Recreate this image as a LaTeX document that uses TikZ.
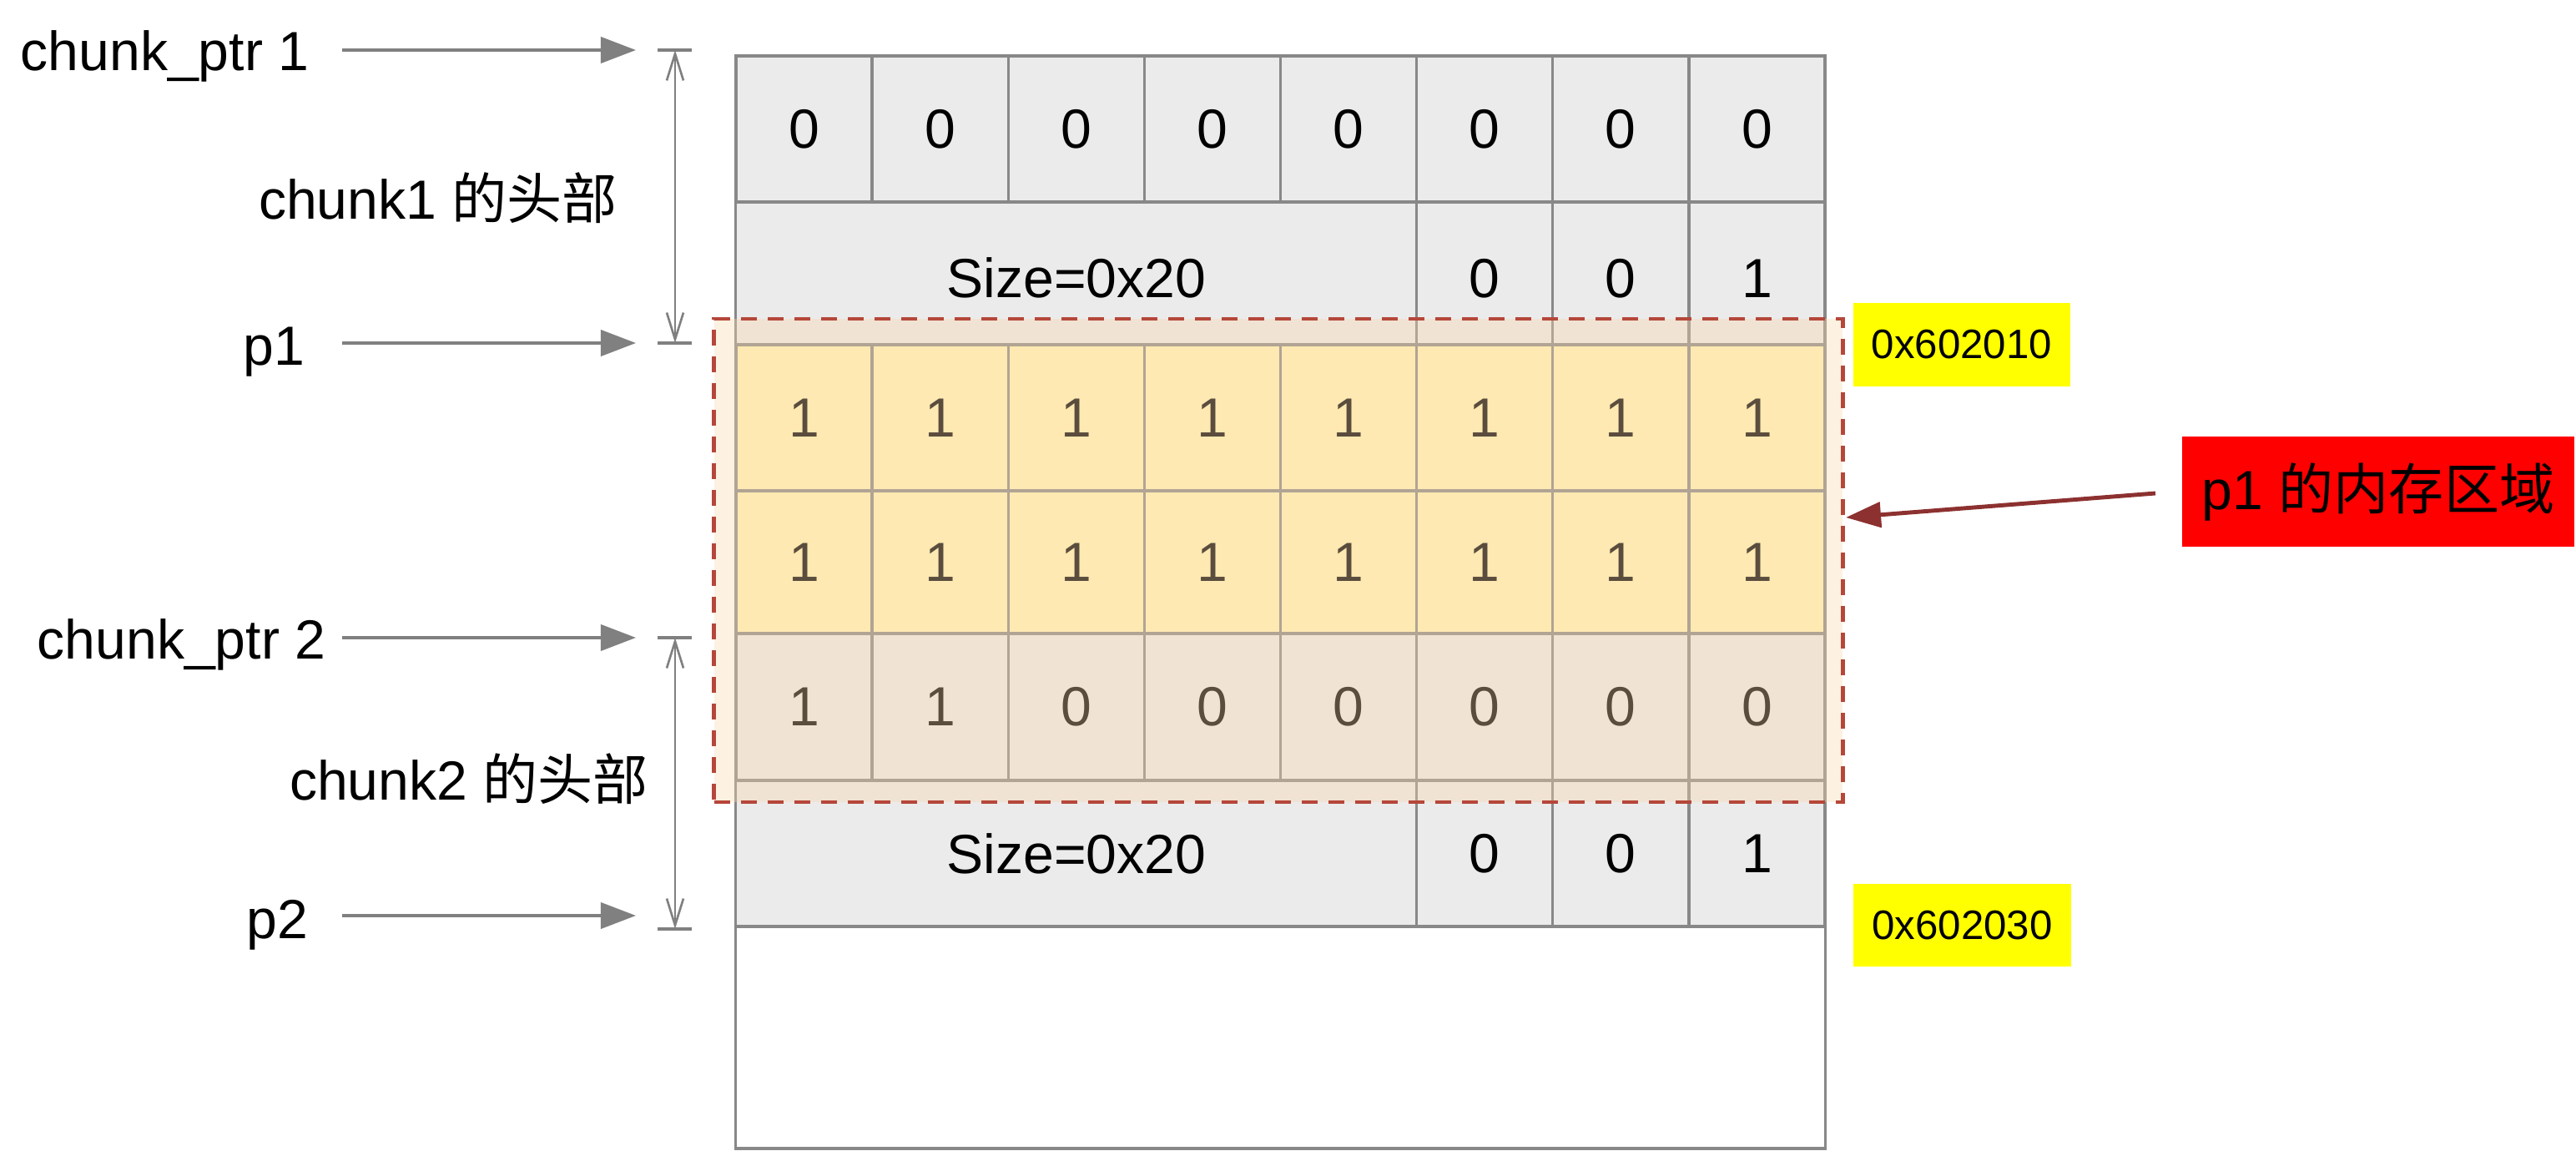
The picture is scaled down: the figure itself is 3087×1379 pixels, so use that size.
\documentclass[tikz,border=0pt]{standalone}
\usepackage{fontspec}
\setmainfont{Liberation Sans}
\newfontfamily\cjk{Noto Sans CJK SC}
\usetikzlibrary{arrows.meta}
\definecolor{cellgray}{HTML}{EBEBEB}
\definecolor{cellyellow}{HTML}{FFF4B4}
\definecolor{gridline}{HTML}{888888}
\definecolor{ovfill}{HTML}{FAD7AC}
\definecolor{ovline}{HTML}{B5473A}
\definecolor{ptrgray}{HTML}{808080}
\definecolor{arrowred}{HTML}{8C3130}
\definecolor{tagyellow}{HTML}{FFFF00}
\definecolor{tagred}{HTML}{FF0000}
\tikzset{
  bigfont/.style={font=\fontsize{18.8pt}{22pt}\selectfont},
  cell/.style={draw=gridline, line width=0.95pt, minimum width=1.63125cm, inner sep=0pt, bigfont, text=black},
  lowtext/.style={text height=0.57cm, text depth=0cm},
  lbl/.style={inner sep=0pt, bigfont, text=black},
  region/.style={draw=ovline, line width=1.3pt, dash pattern=on 0.19cm off 0.13cm, fill=ovfill, fill opacity=0.36, draw opacity=1, text opacity=1, inner sep=0pt},
  tagbox/.style={fill=tagyellow, inner sep=0pt, text=black, font=\fontsize{14pt}{16pt}\selectfont},
  ptrarrow/.style={draw=ptrgray, line width=1.1pt, -{Triangle[length=0.42cm,width=0.31cm]}},
  dimline/.style={draw=ptrgray, line width=0.75pt, {Straight Barb[length=0.32cm,width=0.2cm,line width=0.75pt]}-{Straight Barb[length=0.32cm,width=0.2cm,line width=0.75pt]}},
  dimtick/.style={draw=ptrgray, line width=1pt},
  redarrow/.style={draw=arrowred, line width=1.4pt, -{Triangle[length=0.42cm,width=0.3cm]}}
}
\begin{document}
\begin{tikzpicture}[x=0.01cm,y=-0.01cm]
\useasboundingbox (0,0) rectangle (3087,1379);

% ---- memory table ----
\foreach \v [count=\i from 0] in {0,0,0,0,0,0,0,0}
  \node[cell, fill=cellgray, minimum height=1.75cm] (ra\i) at ({963.6+163.125*\i},154.5) {\v};
\node[cell, fill=cellgray, minimum width=8.156cm, minimum height=1.71cm, lowtext] (sizea) at (1289.8,327.5) {Size=0x20};
\foreach \v [count=\i from 5] in {0,0,1}
  \node[cell, fill=cellgray, minimum height=1.71cm, lowtext] (rb\i) at ({963.6+163.125*\i},327.5) {\v};
\foreach \v [count=\i from 0] in {1,1,1,1,1,1,1,1}
  \node[cell, fill=cellyellow, minimum height=1.75cm] (rc\i) at ({963.6+163.125*\i},500.5) {\v};
\foreach \v [count=\i from 0] in {1,1,1,1,1,1,1,1}
  \node[cell, fill=cellyellow, minimum height=1.71cm] (rd\i) at ({963.6+163.125*\i},673.5) {\v};
\foreach \v [count=\i from 0] in {1,1,0,0,0,0,0,0}
  \node[cell, fill=cellgray, minimum height=1.76cm] (re\i) at ({963.6+163.125*\i},847) {\v};
\node[cell, fill=cellgray, minimum width=8.156cm, minimum height=1.75cm] (sizeb) at (1289.8,1022.5) {Size=0x20};
\foreach \v [count=\i from 5] in {0,0,1}
  \node[cell, fill=cellgray, minimum height=1.75cm] (rf\i) at ({963.6+163.125*\i},1022.5) {\v};
\node[cell, fill=white, minimum width=13.05cm, minimum height=2.66cm] (freearea) at (1534.5,1243) {};

% ---- p1 memory region overlay ----
\node[region, minimum width=13.52cm, minimum height=5.79cm] (p1region) at (1532,671.5) {};

% ---- address tags ----
\node[tagbox, minimum width=2.60cm, minimum height=1.00cm] (addr1) at (2351,413) {0x602010};
\node[tagbox, minimum width=2.61cm, minimum height=0.99cm] (addr2) at (2351.5,1108.5) {0x602030};

% ---- red label and arrow ----
\node[fill=tagred, inner sep=0pt, minimum width=4.70cm, minimum height=1.32cm, bigfont, text=black] (memlbl) at (2850,589) {p1 {\cjk 的内存区域}};
\coordinate (redstart) at (2583,591);
\coordinate (redend) at (2212,620);
\draw[redarrow] (redstart) -- (redend);

% ---- left labels ----
\node[lbl, anchor=base east] (ptra) at (371,85) {chunk\_ptr 1};
\node[lbl, anchor=base] (heada) at (525,262) {chunk1 {\cjk 的头部}};
\node[lbl, anchor=base east] (pa) at (366,437) {p1};
\node[lbl, anchor=base east] (ptrb) at (391,789) {chunk\_ptr 2};
\node[lbl, anchor=base] (headb) at (562,958) {chunk2 {\cjk 的头部}};
\node[lbl, anchor=base east] (pb) at (370,1124) {p2};

% ---- pointer arrows ----
\coordinate (ptras) at (410,60);   \coordinate (ptrae) at (762,60);
\coordinate (pas) at (410,411);    \coordinate (pae) at (762,411);
\coordinate (ptrbs) at (410,764);  \coordinate (ptrbe) at (762,764);
\coordinate (pbs) at (410,1097);   \coordinate (pbe) at (762,1097);
\draw[ptrarrow] (ptras) -- (ptrae);
\draw[ptrarrow] (pas) -- (pae);
\draw[ptrarrow] (ptrbs) -- (ptrbe);
\draw[ptrarrow] (pbs) -- (pbe);

% ---- header brackets ----
\coordinate (bat) at (809,60);  \coordinate (bab) at (809,411);
\coordinate (bbt) at (809,764); \coordinate (bbb) at (809,1113);
\draw[dimline] (bat) -- (bab);
\draw[dimline] (bbt) -- (bbb);
\draw[dimtick] (788,60) -- (829,60);
\draw[dimtick] (788,411) -- (829,411);
\draw[dimtick] (788,764) -- (829,764);
\draw[dimtick] (788,1113) -- (829,1113);
\end{tikzpicture}
\end{document}
